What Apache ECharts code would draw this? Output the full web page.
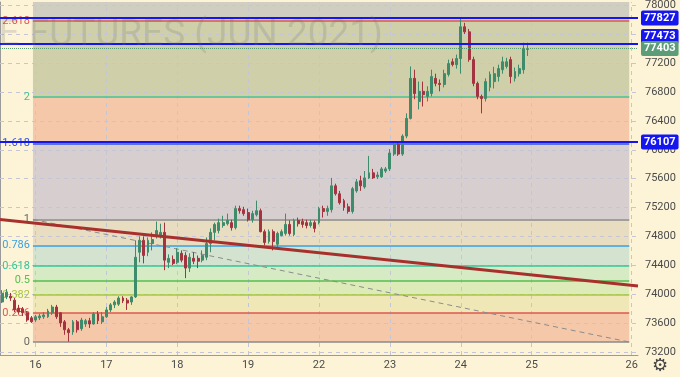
<!DOCTYPE html>
<html>
<head>
<meta charset="utf-8">
<script src="https://cdn.jsdelivr.net/npm/echarts@6.0.0/dist/echarts.min.js"></script>
<style>
html, body { margin: 0; padding: 0; background: #fdf4d8; }
#chart { width: 680px; height: 377px; }
</style>
</head>
<body>
<div id="chart"></div>
<script>
// first bar of each trading day on the time axis
const dayIndex = [8, 25, 42, 59, 76, 93, 110, 127, 151]
const dayLabels = ['16', '17', '18', '19', '22', '23', '24', '25', '26']
const slotCount = 153

// hourly bars: [open, close, low, high]
const bars = [
  [73890, 74010, 73875, 74055], [73960, 74025, 73930, 74070], [73970, 73945, 73905, 74015], [73915, 73780, 73750, 73945],
  [73805, 73750, 73725, 73850], [73795, 73740, 73695, 73820], [73740, 73640, 73615, 73765], [73670, 73615, 73600, 73695],
  [73640, 73685, 73615, 73710], [73670, 73695, 73640, 73725], [73685, 73710, 73655, 73750], [73685, 73765, 73670, 73795],
  [73740, 73820, 73710, 73850], [73820, 73685, 73655, 73850], [73740, 73600, 73545, 73750], [73615, 73505, 73435, 73640],
  [73505, 73465, 73340, 73530], [73475, 73615, 73435, 73640], [73615, 73505, 73465, 73640], [73520, 73640, 73490, 73670],
  [73585, 73630, 73545, 73655], [73630, 73585, 73530, 73670], [73585, 73725, 73575, 73750], [73725, 73630, 73585, 73765],
  [73615, 73685, 73585, 73750], [73685, 73780, 73670, 73820], [73780, 73850, 73750, 73875], [73850, 73890, 73805, 73915],
  [73860, 73945, 73835, 73970], [73945, 73905, 73875, 73970], [73915, 73875, 73780, 73945], [73890, 73960, 73850, 73970],
  [73960, 74510, 73945, 74745], [74580, 74745, 74440, 74800], [74745, 74535, 74425, 74800], [74580, 74745, 74525, 74785],
  [74700, 74755, 74605, 74855], [74800, 74880, 74770, 75005], [74810, 74855, 74770, 74975], [74855, 74470, 74330, 74990],
  [74440, 74495, 74360, 74550], [74480, 74425, 74400, 74535], [74440, 74580, 74415, 74635], [74565, 74470, 74440, 74605],
  [74535, 74360, 74220, 74580], [74360, 74510, 74305, 74565], [74495, 74455, 74415, 74580], [74495, 74455, 74360, 74535],
  [74470, 74535, 74440, 74605], [74510, 74700, 74470, 74785], [74700, 74855, 74580, 74910], [74855, 74965, 74745, 74990],
  [74880, 74990, 74840, 75045], [74950, 74990, 74920, 75085], [74975, 75020, 74950, 75115], [74990, 74920, 74880, 75030],
  [74920, 75185, 74895, 75225], [75185, 75155, 75115, 75225], [75170, 75115, 75085, 75210], [75130, 75030, 75005, 75185],
  [75030, 75115, 74990, 75155], [75100, 75155, 75075, 75295], [75155, 74865, 74855, 75185], [74865, 74715, 74675, 74895],
  [74730, 74865, 74700, 74895], [74865, 74730, 74605, 74895], [74690, 74840, 74645, 74865], [74810, 74865, 74800, 74895],
  [74840, 74965, 74810, 75115], [74965, 74840, 74810, 75020], [74825, 75020, 74800, 75045], [75020, 74975, 74935, 75060],
  [75005, 74965, 74920, 75045], [74990, 74950, 74910, 75030], [74950, 74990, 74920, 75030], [74990, 74910, 74855, 75020],
  [74990, 75185, 74965, 75210], [75185, 75145, 75060, 75225], [75145, 75185, 75085, 75225], [75170, 75500, 75130, 75610],
  [75500, 75390, 75365, 75530], [75390, 75265, 75240, 75430], [75295, 75200, 75155, 75320], [75210, 75145, 75115, 75255],
  [75145, 75460, 75115, 75485], [75430, 75555, 75405, 75595], [75570, 75500, 75430, 75640], [75485, 75610, 75460, 75705],
  [75610, 75680, 75595, 75915], [75680, 75610, 75595, 75735], [75625, 75650, 75595, 75695], [75625, 75735, 75610, 75760],
  [75705, 75735, 75680, 75760], [75735, 75955, 75705, 76010], [75940, 76080, 75915, 76120], [76080, 75940, 75915, 76120],
  [75940, 76190, 75915, 76215], [76190, 76435, 76160, 76505], [76435, 76990, 76420, 77155], [76990, 76780, 76700, 77110],
  [76670, 76810, 76560, 76945], [76810, 76765, 76600, 76945], [76740, 76810, 76670, 76880], [76780, 77015, 76740, 77110],
  [76990, 76920, 76880, 77055], [76920, 76905, 76810, 76975], [76905, 77055, 76865, 77110], [77045, 77195, 77015, 77250],
  [77220, 77180, 77155, 77265], [77180, 77265, 77125, 77320], [77265, 77705, 77055, 77840], [77705, 77635, 77605, 77760],
  [77635, 77250, 77220, 77675], [77250, 76920, 76880, 77290], [76920, 76740, 76700, 76945], [76740, 76710, 76505, 76765],
  [76710, 76945, 76670, 76990], [76865, 77045, 76810, 77085], [76945, 77055, 76850, 77150], [77015, 77125, 76945, 77180],
  [77110, 77220, 77055, 77290], [77155, 77220, 77125, 77275], [77250, 77015, 76920, 77290], [76990, 77085, 76945, 77140],
  [77055, 77125, 77015, 77180], [77110, 77400, 77055, 77485], [77390, 77403, 77300, 77485]
]

const priceTicks = [73200, 73600, 74000, 74400, 74800, 75200, 75600, 76000, 76400, 76800, 77200, 77600, 78000]
const priceLines = [77827, 77473, 76107]
const priceLabelShift = [0, -7, 0]
const lastPrice = 77403
const yMin = 73155
const yMax = 78048

// fibonacci extension drawn on the chart
const fibRatios = [0, 0.236, 0.382, 0.5, 0.618, 0.786, 1, 1.618, 2, 2.618]
const fibPrice0 = 73335
const fibPrice1 = 75035
const fibFrom = 7.9
const fibTo = 150.9
const fibLineColors = ['#8a8a8a', '#e0564f', '#a6c83a', '#55bf4c', '#35c49a', '#3a9fe0', '#8a8a8a', '#3552e6', '#45c293', '#e0564f']
const fibZoneColors = ['#f5c8a9', '#efe8b6', '#dcebb8', '#d6eac4', '#d3e3cf', '#e8ddc0', '#d7ced0', '#f4c8a8', '#cfd0aa', '#d0cec0']

// hand drawn trend line
const trendLine = [[0, 75032], [153, 74110]]

const categories = []
for (let i = 0; i < slotCount; i++) {
  let k = dayIndex.indexOf(i)
  categories.push(k >= 0 ? dayLabels[k] : ' ' + i)
}
const isDay = (i) => dayIndex.indexOf(i) >= 0

const fibPrices = fibRatios.map(r => fibPrice0 + r * (fibPrice1 - fibPrice0))

const zoneData = fibPrices.map((p, k) => [
  { xAxis: fibFrom, yAxis: p, itemStyle: { color: fibZoneColors[k] } },
  { xAxis: fibTo, yAxis: k < fibPrices.length - 1 ? fibPrices[k + 1] : yMax }
])

const gridLines = priceTicks.map(v => ({ yAxis: v }))
  .concat(dayIndex.map(i => ({ xAxis: i + 0.5 })))

const fibLevelLines = fibPrices.map((p, k) => [
  {
    coord: [fibFrom, p],
    lineStyle: { color: fibLineColors[k], width: 1.5, type: 'solid' },
    label: { show: true, position: 'start', formatter: String(fibRatios[k]), color: fibLineColors[k] === '#8a8a8a' ? '#666' : fibLineColors[k], distance: 3, fontSize: 11, fontFamily: 'Roboto' }
  },
  { coord: [fibTo, p] }
])

const priceMarks = priceLines.map((v, k) => ({
  yAxis: v,
  lineStyle: { color: '#1515f0', width: 2, type: 'solid' },
  label: {
    show: true, position: 'end', formatter: String(v), distance: 3, offset: [0, priceLabelShift[k]],
    backgroundColor: '#1515f0', color: '#fff', fontWeight: 'bold', fontSize: 11, fontFamily: 'Roboto',
    padding: [2, 3], borderRadius: 2
  }
})).concat([{
  yAxis: lastPrice,
  lineStyle: { color: '#5a9d78', width: 1, type: 'dotted' },
  label: {
    show: true, position: 'end', formatter: String(lastPrice), distance: 3,
    backgroundColor: '#5a9d78', color: '#fff', fontWeight: 'bold', fontSize: 11, fontFamily: 'Roboto',
    padding: [2, 3], borderRadius: 2
  }
}])

const chart = echarts.init(document.getElementById('chart'))
chart.setOption({
  animation: false,
  backgroundColor: '#fdf4d8',
  grid: { left: 0, right: 42, top: 0, bottom: 22 },
  xAxis: [{
    type: 'category',
    data: categories,
    axisLine: { lineStyle: { color: '#9a9a9a' } },
    axisTick: { interval: isDay, alignWithLabel: true, length: 4, lineStyle: { color: '#9a9a9a' } },
    axisLabel: { interval: isDay, formatter: v => v[0] !== ' ' ? v : '', color: '#4a4a4a', fontSize: 11, fontFamily: 'Roboto', margin: 5 },
    splitLine: { show: false }
  }, {
    type: 'value', min: 0, max: slotCount, show: false
  }],
  yAxis: {
    type: 'value',
    position: 'right',
    min: yMin,
    max: yMax,
    axisLine: { show: true, lineStyle: { color: '#9a9a9a' } },
    axisTick: { show: true, length: 4, customValues: priceTicks, lineStyle: { color: '#9a9a9a' } },
    axisLabel: { customValues: priceTicks, formatter: v => String(v), color: '#4a4a4a', fontSize: 11, fontFamily: 'Roboto', margin: 7 },
    splitLine: { show: false }
  },
  graphic: [{
    type: 'text', z: 10, silent: true,
    style: { x: 383, y: 36, text: 'E FUTURES (JUN 2021)', textAlign: 'right', textVerticalAlign: 'middle', font: '37px Roboto', fill: 'rgba(110,110,110,0.2)' }
  }, {
    type: 'text', z: 10, silent: true,
    style: { x: 660, y: 366, text: '\u2699', textAlign: 'center', textVerticalAlign: 'middle', font: '18px "DejaVu Sans"', fill: '#444' }
  }],
  series: [{
    type: 'line',
    xAxisIndex: 1,
    data: [],
    markArea: { silent: true, z: 0, data: zoneData },
    markLine: {
      silent: true, z: 1, symbol: ['none', 'none'],
      label: { show: false },
      lineStyle: { color: '#c4c6d6', width: 1, type: [4, 4] },
      data: gridLines
    }
  }, {
    type: 'line',
    xAxisIndex: 1,
    z: 2,
    data: [[fibFrom, fibPrice1], [fibTo, fibPrice0]],
    symbol: 'none',
    lineStyle: { color: '#8c8c8c', width: 1, type: [5, 4] },
    markLine: { silent: true, z: 2, symbol: ['none', 'none'], data: fibLevelLines }
  }, {
    type: 'candlestick',
    z: 3,
    data: bars,
    barWidth: 2.4,
    itemStyle: {
      color: '#3e8c6b', color0: '#a3343f',
      borderColor: '#3e8c6b', borderColor0: '#a3343f', borderWidth: 1
    },
    markLine: { silent: true, z: 5, symbol: ['none', 'none'], data: priceMarks }
  }, {
    type: 'line',
    xAxisIndex: 1,
    z: 4,
    data: trendLine,
    symbol: 'none',
    lineStyle: { color: '#a8302c', width: 3 }
  }]
})
</script>
</body>
</html>
